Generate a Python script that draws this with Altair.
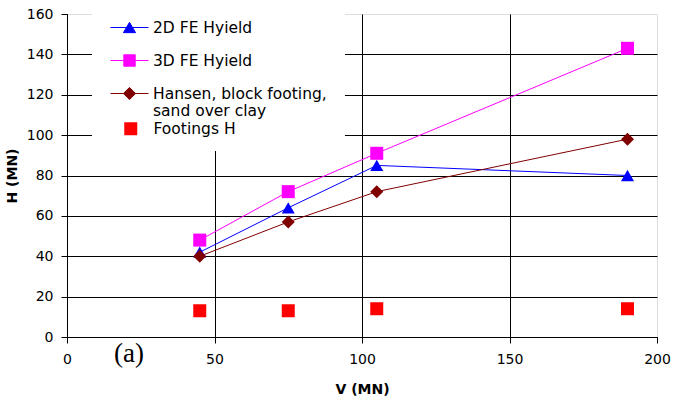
import altair as alt
import pandas as pd

# ---- data ----
V = [45, 75, 105, 190]
H_2d = [42, 64, 85, 80]
H_3d = [48, 72, 91, 143]
H_hansen = [40, 57, 72, 98]
H_footings = [13, 13, 14, 14]

S2D = "2D FE Hyield"
S3D = "3D FE Hyield"
SHAN = "Hansen, block footing, sand over clay"
SFOOT = "Footings H"

x_ticks = [0, 50, 100, 150, 200]
y_ticks = [0, 20, 40, 60, 80, 100, 120, 140, 160]

C2D, C3D, CHAN, CFOOT = "#0000FF", "#FF00FF", "#800000", "#FF0000"

line_series = [S2D, S3D, SHAN]
line_colors = [C2D, C3D, CHAN]
# legend swatches: a short line with the marker on it (unit coords, scaled by the symbol size)
legend_paths = [
    "M-1,0H1M-0.32,0.27L0,-0.27L0.32,0.27Z",
    "M-1,0H1M-0.3,-0.3H0.3V0.3H-0.3Z",
    "M-1,0H1M0,-0.32L0.32,0L0,0.32L-0.32,0Z",
]

rows = []
for name, vals in [(S2D, H_2d), (S3D, H_3d), (SHAN, H_hansen), (SFOOT, H_footings)]:
    for v, h in zip(V, vals):
        rows.append({"V": v, "H": h, "series": name})
df = pd.DataFrame(rows)

FONT = "DejaVu Sans"

x_enc = alt.X(
    "V:Q",
    scale=alt.Scale(domain=[0, 200], nice=False, zero=False),
    axis=alt.Axis(
        values=x_ticks, title="V (MN)", grid=True, gridColor="black", gridWidth=1,
        gridOpacity={"condition": {"test": "datum.value >= 200", "value": 0}, "value": 1},
        domainColor="black", domainWidth=1, tickColor="black", tickSize=6, tickWidth=1,
        labelFont=FONT, labelFontSize=14, labelColor="black", labelPadding=9, labelFlush=False,
        titleFont=FONT, titleFontSize=14, titleFontWeight="bold", titleColor="black", titlePadding=16,
    ),
)
y_enc = alt.Y(
    "H:Q",
    scale=alt.Scale(domain=[0, 160], nice=False),
    axis=alt.Axis(
        values=y_ticks, title="H (MN)", grid=True, gridColor="black", gridWidth=1,
        gridOpacity={"condition": {"test": "datum.value >= 160", "value": 0}, "value": 1},
        domainColor="black", domainWidth=1, tickColor="black", tickSize=6, tickWidth=1,
        labelFont=FONT, labelFontSize=14, labelColor="black", labelPadding=8,
        titleFont=FONT, titleFontSize=14, titleFontWeight="bold", titleColor="black", titlePadding=7,
    ),
)

base = alt.Chart(df)


def line(name, color):
    return base.transform_filter(alt.datum.series == name).mark_line(
        color=color, strokeWidth=1
    ).encode(x=x_enc, y=y_enc)


def pts(name, color, shape):
    return base.transform_filter(alt.datum.series == name).mark_point(
        shape=shape, filled=True, color=color, size=169, opacity=1, strokeWidth=0
    ).encode(x=x_enc, y=y_enc)


legA = alt.Legend(
    title=None, orient="none", legendX=25, legendY=-24, padding=18, fillColor="white",
    symbolSize=1444, symbolStrokeWidth=1, labelOffset=4, rowPadding=5, zindex=1,
    labelFont=FONT, labelFontSize=15.5, labelColor="black", labelLimit=400, labelBaseline="middle",
    labelExpr="datum.label == '" + SHAN + "' ? ['Hansen, block footing,', 'sand over clay'] : datum.label",
)

legend_layer = base.transform_filter("false").mark_point(
    filled=True, opacity=1, strokeWidth=1, size=1444
).encode(
    fill=alt.Fill("series:N", scale=alt.Scale(domain=line_series, range=line_colors), legend=legA),
    stroke=alt.Stroke("series:N", scale=alt.Scale(domain=line_series, range=line_colors), legend=legA),
    shape=alt.Shape("series:N", scale=alt.Scale(domain=line_series, range=legend_paths), legend=legA),
)

legB = alt.Legend(
    title=" ", titleOrient="bottom", titleFontSize=12, titlePadding=3,
    orient="none", legendX=56, legendY=107, padding=0, fillColor="white", zindex=2,
    symbolType="square", symbolSize=169, symbolStrokeWidth=0, labelOffset=15,
    labelFont=FONT, labelFontSize=15.5, labelColor="black", labelLimit=400, labelBaseline="middle",
)

footings = base.transform_filter(alt.datum.series == SFOOT).mark_square(
    size=169, opacity=1
).encode(
    x=x_enc, y=y_enc,
    color=alt.Color("series:N", scale=alt.Scale(domain=[SFOOT], range=[CFOOT]), legend=legB),
)

chart = alt.layer(
    line(S2D, C2D), line(S3D, C3D), line(SHAN, CHAN),
    pts(S2D, C2D, "triangle-up"), pts(S3D, C3D, "square"), pts(SHAN, CHAN, "diamond"),
    footings, legend_layer,
).properties(
    width=590, height=323,
    autosize=alt.AutoSizeParams(type="none"),
    padding={"left": 67, "top": 14, "right": 27, "bottom": 69},
    title=alt.TitleParams(
        text="(a)", orient="bottom", anchor="start", frame="group",
        font="Liberation Serif", fontSize=27, fontWeight="normal", color="black",
        dx=47, dy=-55, offset=0,
    ),
).configure_view(stroke=None).configure(background="white")

chart.save("out.html", embed_options={"renderer": "svg", "actions": False})
